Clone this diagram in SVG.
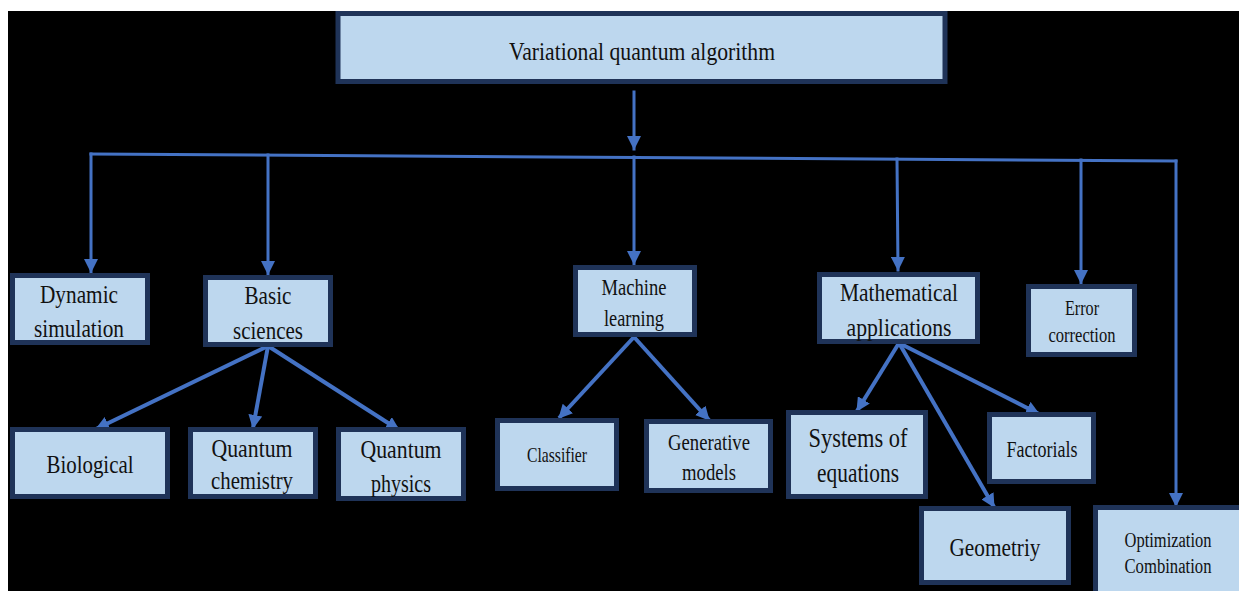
<svg xmlns="http://www.w3.org/2000/svg" width="1239" height="591" viewBox="0 0 1239 591">
<style>
.box{fill:#bdd7ee;stroke:#1f3358;stroke-width:5}
.t{font-family:"Liberation Serif","Times New Roman",serif;fill:#111;text-anchor:middle}
.c{stroke:#4472c4;stroke-width:3;fill:none;stroke-linecap:square}
.b{stroke:#4472c4;stroke-width:4;fill:none}
</style>
<defs>
<marker id="ah2" viewBox="0 0 14 14" refX="13" refY="7" markerWidth="14" markerHeight="14" markerUnits="userSpaceOnUse" orient="auto">
<path d="M0,0 L14,7 L0,14 Z" fill="#4472c4"/>
</marker>
</defs>
<rect x="0" y="0" width="1239" height="591" fill="#ffffff"/>
<rect x="8" y="11" width="1231" height="580" fill="#000000"/>

<g id="connectors">
<line class="c" x1="634" y1="92" x2="634" y2="149" marker-end="url(#ah2)"/>
<line class="c" x1="91" y1="154" x2="1176" y2="161"/>
<line class="c" x1="91" y1="154" x2="91" y2="272" marker-end="url(#ah2)"/>
<line class="c" x1="268" y1="155" x2="268" y2="274" marker-end="url(#ah2)"/>
<line class="c" x1="634" y1="157" x2="634" y2="264" marker-end="url(#ah2)"/>
<line class="c" x1="897" y1="159" x2="898" y2="270" marker-end="url(#ah2)"/>
<line class="c" x1="1081" y1="160" x2="1081" y2="283" marker-end="url(#ah2)"/>
<line class="c" x1="1176" y1="161" x2="1176" y2="506" marker-end="url(#ah2)"/>
<line class="b" x1="268" y1="346" x2="96" y2="429" marker-end="url(#ah2)"/>
<line class="b" x1="268" y1="346" x2="253" y2="428" marker-end="url(#ah2)"/>
<line class="b" x1="268" y1="346" x2="399" y2="430" marker-end="url(#ah2)"/>
<line class="b" x1="634" y1="337" x2="559" y2="418" marker-end="url(#ah2)"/>
<line class="b" x1="634" y1="337" x2="709" y2="420" marker-end="url(#ah2)"/>
<line class="b" x1="899" y1="343" x2="857" y2="411" marker-end="url(#ah2)"/>
<line class="b" x1="899" y1="343" x2="994" y2="507" marker-end="url(#ah2)"/>
<line class="b" x1="899" y1="343" x2="1039" y2="414" marker-end="url(#ah2)"/>
</g>

<g id="n-root">
<rect class="box" x="338" y="13.5" width="607" height="68"/>
<text class="t" x="642" y="60" font-size="26" textLength="266" lengthAdjust="spacingAndGlyphs">Variational quantum algorithm</text>
</g>
<g id="n-dynamic">
<rect class="box" x="12.5" y="275.5" width="135" height="67"/>
<text class="t" x="79" y="303" font-size="26" textLength="78" lengthAdjust="spacingAndGlyphs">Dynamic</text>
<text class="t" x="79" y="337" font-size="26" textLength="90" lengthAdjust="spacingAndGlyphs">simulation</text>
</g>
<g id="n-basic">
<rect class="box" x="205.5" y="277.5" width="125" height="67"/>
<text class="t" x="268" y="304" font-size="26" textLength="47" lengthAdjust="spacingAndGlyphs">Basic</text>
<text class="t" x="268" y="339" font-size="26" textLength="70" lengthAdjust="spacingAndGlyphs">sciences</text>
</g>
<g id="n-bio">
<rect class="box" x="12.5" y="429.5" width="155" height="67"/>
<text class="t" x="90" y="473" font-size="26" textLength="87" lengthAdjust="spacingAndGlyphs">Biological</text>
</g>
<g id="n-qchem">
<rect class="box" x="190.5" y="429.5" width="125" height="67"/>
<text class="t" x="252" y="457" font-size="26" textLength="81" lengthAdjust="spacingAndGlyphs">Quantum</text>
<text class="t" x="252" y="489" font-size="26" textLength="82" lengthAdjust="spacingAndGlyphs">chemistry</text>
</g>
<g id="n-qphys">
<rect class="box" x="338.5" y="429.5" width="125" height="69"/>
<text class="t" x="401" y="458" font-size="26" textLength="81" lengthAdjust="spacingAndGlyphs">Quantum</text>
<text class="t" x="401" y="492" font-size="26" textLength="60" lengthAdjust="spacingAndGlyphs">physics</text>
</g>
<g id="n-ml">
<rect class="box" x="575.5" y="267.5" width="119" height="67"/>
<text class="t" x="634" y="295" font-size="23" textLength="65" lengthAdjust="spacingAndGlyphs">Machine</text>
<text class="t" x="634" y="326" font-size="23" textLength="60" lengthAdjust="spacingAndGlyphs">learning</text>
</g>
<g id="n-class">
<rect class="box" x="497.5" y="420.5" width="119" height="68"/>
<text class="t" x="557" y="462" font-size="21" textLength="60" lengthAdjust="spacingAndGlyphs">Classifier</text>
</g>
<g id="n-gen">
<rect class="box" x="646.5" y="421.5" width="124" height="69"/>
<text class="t" x="709" y="450" font-size="23" textLength="82" lengthAdjust="spacingAndGlyphs">Generative</text>
<text class="t" x="709" y="480" font-size="23" textLength="54" lengthAdjust="spacingAndGlyphs">models</text>
</g>
<g id="n-math">
<rect class="box" x="819.5" y="274.5" width="158" height="67"/>
<text class="t" x="899" y="301" font-size="26" textLength="118" lengthAdjust="spacingAndGlyphs">Mathematical</text>
<text class="t" x="899" y="336" font-size="26" textLength="105" lengthAdjust="spacingAndGlyphs">applications</text>
</g>
<g id="n-error">
<rect class="box" x="1028.5" y="286.5" width="106" height="68"/>
<text class="t" x="1082" y="315" font-size="21" textLength="34" lengthAdjust="spacingAndGlyphs">Error</text>
<text class="t" x="1082" y="342" font-size="21" textLength="67" lengthAdjust="spacingAndGlyphs">correction</text>
</g>
<g id="n-systems">
<rect class="box" x="788.5" y="412.5" width="137" height="84"/>
<text class="t" x="858" y="447" font-size="27" textLength="99" lengthAdjust="spacingAndGlyphs">Systems of</text>
<text class="t" x="858" y="482" font-size="27" textLength="82" lengthAdjust="spacingAndGlyphs">equations</text>
</g>
<g id="n-fact">
<rect class="box" x="989.5" y="414.5" width="104" height="67"/>
<text class="t" x="1042" y="457" font-size="23" textLength="71" lengthAdjust="spacingAndGlyphs">Factorials</text>
</g>
<g id="n-geo">
<rect class="box" x="921.5" y="508.5" width="147" height="74"/>
<text class="t" x="995" y="556" font-size="26" textLength="91" lengthAdjust="spacingAndGlyphs">Geometriy</text>
</g>
<g id="n-opt">
<rect class="box" x="1095.5" y="507.5" width="150" height="90"/>
<text class="t" x="1168" y="547" font-size="20" textLength="87" lengthAdjust="spacingAndGlyphs">Optimization</text>
<text class="t" x="1168" y="573" font-size="20" textLength="87" lengthAdjust="spacingAndGlyphs">Combination</text>
</g>
</svg>
